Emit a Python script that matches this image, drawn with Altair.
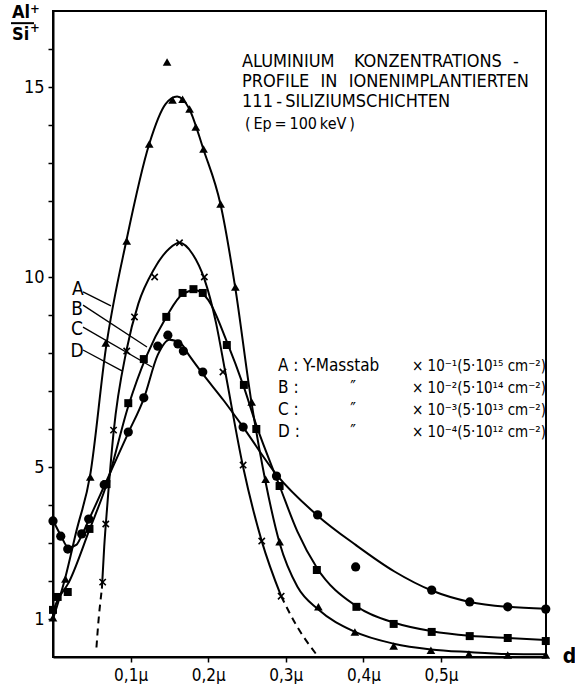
import altair as alt
import pandas as pd

# ---------------- values (d in µm, y = Al+/Si+) ----------------
# Markers
a_d = [0.0, 0.016, 0.048, 0.068, 0.095, 0.124, 0.147, 0.154, 0.167, 0.176, 0.184, 0.194,
       0.216, 0.235, 0.256, 0.274, 0.292, 0.342, 0.389, 0.439, 0.487, 0.536, 0.586, 0.635]
a_v = [1.03, 2.05, 4.74, 8.26, 10.95, 13.5, 15.66, 14.66, 14.68, 14.42, 13.95, 13.37,
       11.92, 9.74, 6.71, 4.68, 3.03, 1.32, 0.66, 0.29, 0.18, 0.08, 0.05, 0.05]

b_d = [0.0, 0.006, 0.019, 0.047, 0.069, 0.097, 0.117, 0.146, 0.167, 0.181, 0.193, 0.224,
       0.246, 0.262, 0.292, 0.34, 0.391, 0.439, 0.488, 0.537, 0.586, 0.635]
b_v = [1.24, 1.58, 1.71, 3.37, 4.55, 6.68, 7.84, 8.95, 9.58, 9.68, 9.58, 8.21,
       7.16, 6.0, 4.5, 2.29, 1.32, 0.87, 0.66, 0.55, 0.5, 0.42]

c_d = [0.0, 0.01, 0.019, 0.037, 0.046, 0.066, 0.097, 0.117, 0.135, 0.148, 0.161, 0.168,
       0.193, 0.245, 0.288, 0.341, 0.39, 0.488, 0.537, 0.586, 0.635]
c_v = [3.58, 3.18, 2.84, 3.24, 3.63, 4.53, 5.92, 6.82, 8.18, 8.47, 8.24, 8.05,
       7.5, 6.05, 4.76, 3.74, 2.37, 1.76, 1.45, 1.32, 1.26]

d_d = [0.064, 0.068, 0.078, 0.095, 0.105, 0.131, 0.163, 0.195, 0.219, 0.245, 0.269, 0.294]
d_v = [1.97, 3.5, 5.97, 8.05, 8.95, 10.0, 10.9, 10.0, 7.5, 5.05, 3.05, 1.6]

# Hand-drawn fitted curves
ca_d = [0.0, 0.016, 0.03, 0.048, 0.068, 0.095, 0.124, 0.145, 0.16, 0.175, 0.194, 0.216,
        0.235, 0.255, 0.274, 0.292, 0.315, 0.342, 0.387, 0.439, 0.487, 0.536, 0.586, 0.635]
ca_v = [1.0, 2.1, 3.3, 4.8, 8.1, 11.0, 13.5, 14.55, 14.75, 14.45, 13.35, 11.9,
        9.7, 6.8, 4.6, 3.0, 1.85, 1.25, 0.68, 0.35, 0.2, 0.13, 0.08, 0.07]

cb_d = [0.0, 0.006, 0.02, 0.047, 0.07, 0.097, 0.12, 0.146, 0.167, 0.183, 0.2, 0.224,
        0.246, 0.262, 0.292, 0.315, 0.34, 0.39, 0.44, 0.488, 0.537, 0.586, 0.635]
cb_v = [1.2, 1.5, 1.95, 3.35, 4.6, 6.6, 7.9, 8.95, 9.55, 9.65, 9.4, 8.3,
        7.1, 6.1, 4.5, 3.3, 2.35, 1.35, 0.9, 0.68, 0.56, 0.5, 0.45]

cc_d = [0.0, 0.01, 0.02, 0.03, 0.037, 0.046, 0.066, 0.097, 0.117, 0.135, 0.15, 0.165,
        0.175, 0.193, 0.22, 0.245, 0.288, 0.341, 0.39, 0.44, 0.488, 0.537, 0.586, 0.635]
cc_v = [3.6, 3.2, 2.88, 2.95, 3.2, 3.6, 4.5, 5.9, 6.8, 7.95, 8.35, 8.25,
        7.95, 7.45, 6.75, 6.05, 4.8, 3.72, 2.95, 2.25, 1.75, 1.45, 1.32, 1.27]

cd_d = [0.063, 0.066, 0.07, 0.078, 0.095, 0.11, 0.13, 0.15, 0.163, 0.18, 0.195, 0.21,
        0.222, 0.245, 0.269, 0.294]
cd_v = [1.8, 2.9, 4.0, 5.9, 8.1, 9.3, 10.2, 10.75, 10.9, 10.6, 9.95, 8.8,
        7.5, 5.0, 3.05, 1.6]

dash_left_d = [0.056, 0.058, 0.063]
dash_left_v = [0.25, 0.8, 1.8]
dash_right_d = [0.294, 0.314, 0.342]
dash_right_v = [1.6, 0.82, 0.0]

x_ticks = [0.1, 0.2, 0.3, 0.4, 0.5]
y_ticks = [1, 2, 3, 4, 5, 6, 7, 8, 9, 10, 11, 12, 13, 14, 15, 16]
y_labelled = [1, 5, 10, 15]

title_lines = ["ALUMINIUM\u2003\u2009KONZENTRATIONS\u2002\u2009-",
               "PROFILE\u2002\u2009IN\u2002\u2009IONENIMPLANTIERTEN",
               "111\u2009-\u2009SILIZIUMSCHICHTEN",
               "(\u2009Ep\u2009=\u2009100\u2009keV\u2009)"]
legend_keys = ["A :", "B :", "C :", "D :"]
legend_mid = ["Y-Masstab", "\u2033", "\u2033", "\u2033"]
legend_right = ["\u00d7 10\u207b\u00b9(5\u00b710\u00b9\u2075 cm\u207b\u00b2)",
                "\u00d7 10\u207b\u00b2(5\u00b710\u00b9\u2074 cm\u207b\u00b2)",
                "\u00d7 10\u207b\u00b3(5\u00b710\u00b9\u00b3 cm\u207b\u00b2)",
                "\u00d7 10\u207b\u2074(5\u00b710\u00b9\u00b2 cm\u207b\u00b2)"]
curve_names = ["A", "B", "C", "D"]

# ---------------- layout (data coordinates) ----------------
X0, X1 = 0.0, 0.6353
Y0, Y1 = 0.0, 17.0
FONT = "DejaVu Sans Condensed, Liberation Sans, sans-serif"

title_x = [0.2436, 0.2436, 0.2436, 0.2474]
title_y = [15.66, 15.13, 14.61, 14.03]
title_size = [18, 18, 18, 16]
legend_y = [7.66, 7.08, 6.5, 5.92]
legend_key_x, legend_mid_x, legend_mid_x2, legend_right_x = 0.290, 0.322, 0.383, 0.4626
label_x = [0.032, 0.031, 0.031, 0.031]
label_y = [9.68, 9.16, 8.63, 8.05]
leader_x1 = [0.0387, 0.0387, 0.0387, 0.0387]
leader_y1 = [9.61, 9.26, 8.68, 8.08]
leader_x2 = [0.0747, 0.1211, 0.1276, 0.0889]
leader_y2 = [9.24, 8.16, 7.63, 7.53]

xs = alt.Scale(domain=[X0, X1], nice=False, zero=False)
ys = alt.Scale(domain=[Y0, Y1], nice=False, zero=False)

X = alt.X("d:Q", scale=xs, title=None,
          axis=alt.Axis(values=x_ticks, tickSize=5, labelPadding=5, labelFontSize=17,
                        labelExpr="replace(format(datum.value, '.1f'), '.', ',') + '\u00b5'"))
Y = alt.Y("v:Q", scale=ys, title=None,
          axis=alt.Axis(values=y_ticks, tickSize=5, labelPadding=4, labelFontSize=18,
                        labelExpr="indexof(%s, datum.value) >= 0 ? datum.label : ''" % str(y_labelled)))


def frame(ds, vs, key=None):
    df = pd.DataFrame({"d": ds, "v": vs})
    if key is not None:
        df["k"] = key
    return df


curves = pd.concat([frame(ca_d, ca_v, "A"), frame(cb_d, cb_v, "B"),
                    frame(cc_d, cc_v, "C"), frame(cd_d, cd_v, "D")])
dashes = pd.concat([frame(dash_left_d, dash_left_v, "L"), frame(dash_right_d, dash_right_v, "R")])

line_layer = alt.Chart(curves).mark_line(color="black", strokeWidth=2, interpolate="monotone").encode(
    x=X, y=Y, detail="k:N")
dash_layer = alt.Chart(dashes).mark_line(color="black", strokeWidth=2, strokeDash=[7, 5],
                                         interpolate="monotone").encode(x=X, y=Y, detail="k:N")

tri = alt.Chart(frame(a_d, a_v)).mark_point(shape="triangle-up", filled=True, color="black",
                                            size=75, opacity=1).encode(x=X, y=Y)
sq = alt.Chart(frame(b_d, b_v)).mark_point(shape="square", filled=True, color="black",
                                           size=64, opacity=1).encode(x=X, y=Y)
circ = alt.Chart(frame(c_d, c_v)).mark_point(shape="circle", filled=True, color="black",
                                             size=85, opacity=1).encode(x=X, y=Y)
crs = alt.Chart(frame(d_d, d_v)).mark_point(shape="M-1,-1L1,1M1,-1L-1,1", filled=False, color="black",
                                            strokeWidth=1.6, size=40, opacity=1).encode(x=X, y=Y)

title_df = pd.DataFrame({"d": title_x, "v": title_y, "t": title_lines, "s": title_size})
title_layer = alt.Chart(title_df).mark_text(align="left", baseline="middle", font=FONT,
                                            color="black").encode(
    x=X, y=Y, text="t:N", size=alt.Size("s:Q", scale=None, legend=None))

leg_df = pd.DataFrame({"v": legend_y, "key": legend_keys, "mid": legend_mid, "right": legend_right})
leg_df["dk"] = legend_key_x
leg_df["dm"] = [legend_mid_x] + [legend_mid_x2] * 3
leg_df["dr"] = legend_right_x
leg_base = alt.Chart(leg_df).mark_text(align="left", baseline="middle", font=FONT, fontSize=17, color="black")
leg_key = leg_base.encode(x=alt.X("dk:Q", scale=xs), y=Y, text="key:N")
leg_mid = leg_base.encode(x=alt.X("dm:Q", scale=xs), y=Y, text="mid:N")
leg_right = alt.Chart(leg_df).mark_text(align="left", baseline="middle", font=FONT, fontSize=15,
                                        color="black").encode(x=alt.X("dr:Q", scale=xs), y=Y, text="right:N")

lab_df = pd.DataFrame({"d": label_x, "v": label_y, "t": curve_names})
lab_layer = alt.Chart(lab_df).mark_text(align="center", baseline="middle", font=FONT, fontSize=19,
                                        color="black").encode(x=X, y=Y, text="t:N")
lead_df = pd.DataFrame({"d": leader_x1, "v": leader_y1, "d2": leader_x2, "v2": leader_y2})
lead_layer = alt.Chart(lead_df).mark_rule(color="black", strokeWidth=1.3).encode(
    x=X, y=Y, x2="d2:Q", y2="v2:Q")

# y-axis quantity Al+/Si+ and x-axis symbol d
ax_df = pd.DataFrame({"d": [-0.0528, -0.0296, -0.0528, -0.0296, 0.657],
                      "v": [16.95, 17.05, 16.37, 16.56, 0.0],
                      "t": ["Al", "+", "Si", "+", "d"],
                      "s": [18, 13, 18, 13, 21]})
ax_layer = alt.Chart(ax_df).mark_text(align="left", baseline="middle", font=FONT, fontWeight="bold",
                                      color="black").encode(
    x=X, y=Y, text="t:N", size=alt.Size("s:Q", scale=None, legend=None))
bar_df = pd.DataFrame({"d": [-0.0541], "v": [16.68], "d2": [-0.0245]})
bar_layer = alt.Chart(bar_df).mark_rule(color="black", strokeWidth=2).encode(x=X, y=Y, x2="d2:Q")

chart = alt.layer(line_layer, dash_layer, tri, sq, circ, crs, title_layer,
                  leg_key, leg_mid, leg_right, lab_layer, lead_layer, ax_layer, bar_layer).properties(
    width=493, height=646,
    autosize=alt.AutoSizeParams(type="none"),
    padding={"left": 53, "top": 11, "right": 29, "bottom": 27},
    background="white",
).configure_view(stroke="black", strokeWidth=2).configure_axis(
    grid=False, domainColor="black", domainWidth=2, tickColor="black", tickWidth=1.5,
    labelColor="black", labelFont=FONT,
)

chart.save("out.html", embed_options={"renderer": "svg", "actions": False})
